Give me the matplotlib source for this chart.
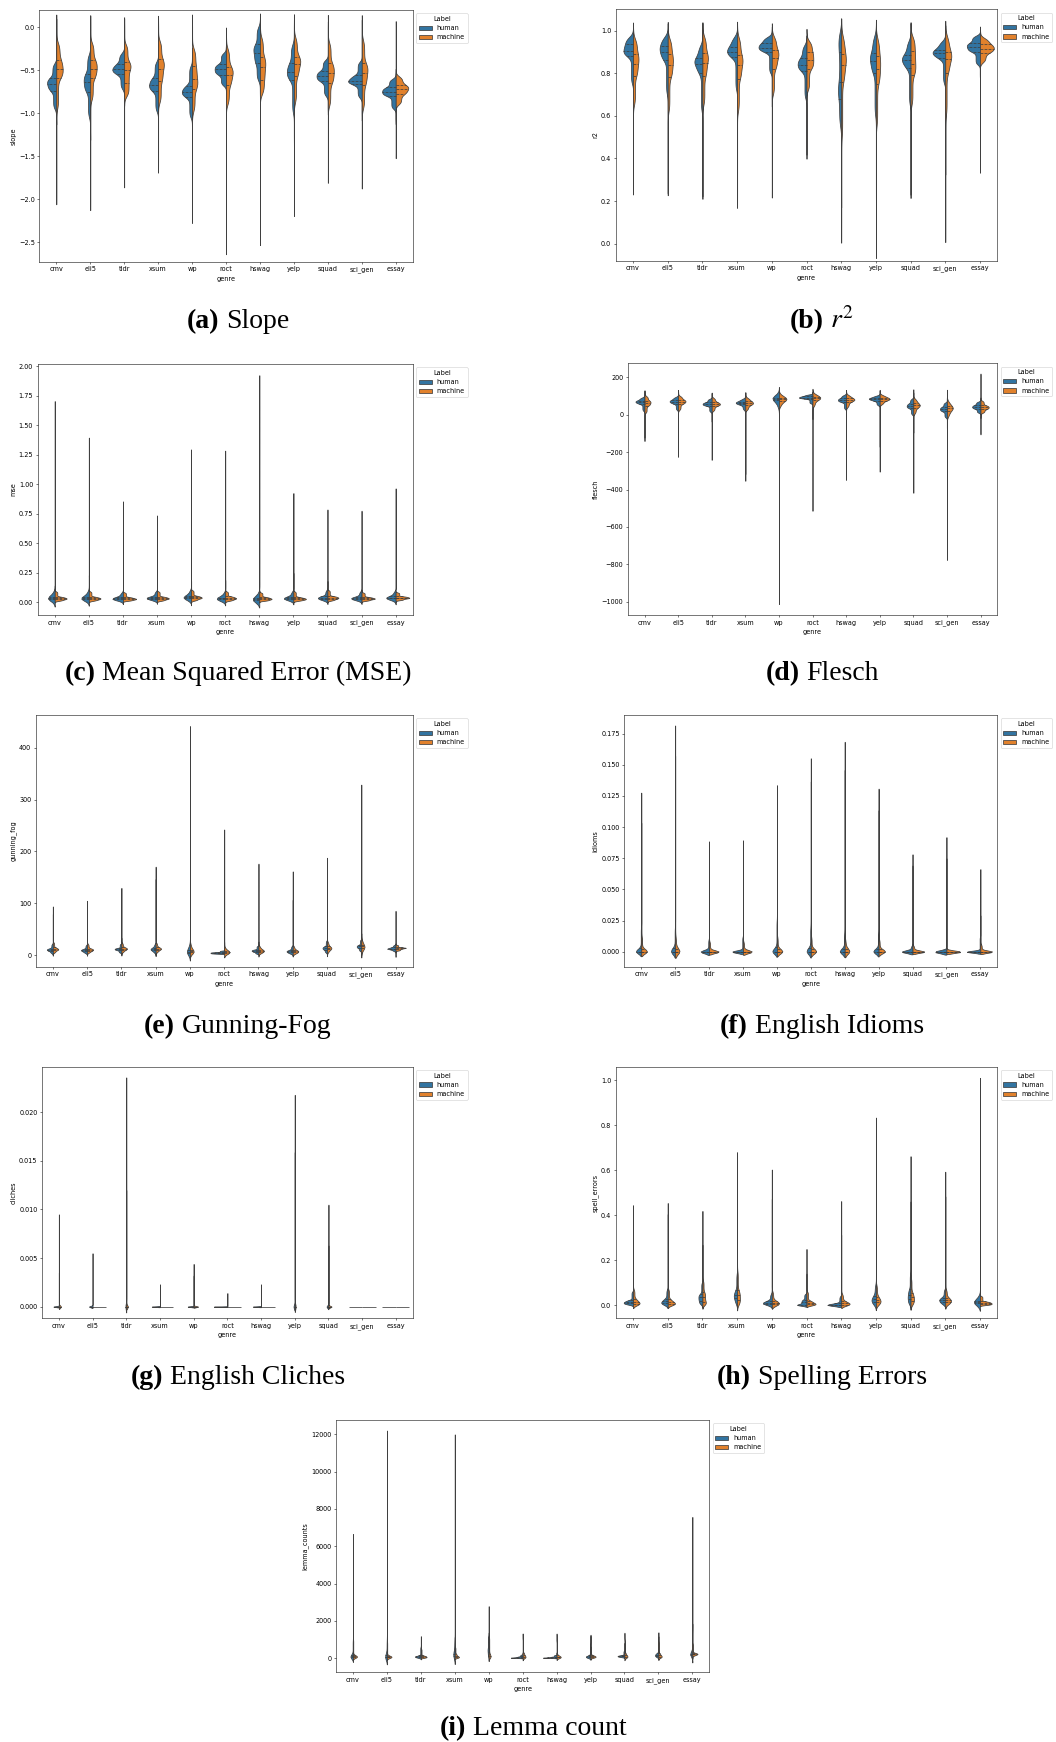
import numpy as np
import matplotlib
matplotlib.use("Agg")
import matplotlib.pyplot as plt
from matplotlib.patches import Patch
from matplotlib.ticker import MultipleLocator

# ---------------- data ----------------
GENRES = ["cmv", "eli5", "tldr", "xsum", "wp", "roct", "hswag", "yelp", "squad", "sci_gen", "essay"]
LABELS = ["human", "machine"]
# each violin half is described by quantiles at these probability levels:
# [min, p1, q1, median, q3, p99, max]
P_KNOTS = [0.0, 0.01, 0.25, 0.50, 0.75, 0.99, 1.0]

SLOPE_HUMAN = [
    [-1.07, -0.95, -0.74, -0.66, -0.59, -0.42, 0.05],
    [-1.23, -1.05, -0.75, -0.64, -0.54, -0.32, 0.06],
    [-1.83, -0.72, -0.54, -0.49, -0.43, -0.30, 0.05],
    [-1.19, -0.98, -0.74, -0.67, -0.59, -0.40, 0.05],
    [-1.20, -1.05, -0.81, -0.75, -0.68, -0.45, -0.30],
    [-0.95, -0.68, -0.55, -0.49, -0.43, -0.30, -0.22],
    [-0.80, -0.62, -0.42, -0.30, -0.20, 0.00, 0.06],
    [-1.32, -1.00, -0.61, -0.52, -0.42, -0.20, 0.05],
    [-0.97, -0.80, -0.63, -0.57, -0.51, -0.38, 0.03],
    [-1.04, -0.82, -0.66, -0.62, -0.56, -0.40, 0.05],
    [-1.09, -0.95, -0.80, -0.75, -0.70, -0.60, -0.52],
]
SLOPE_MACHINE = [
    [-1.99, -0.95, -0.59, -0.49, -0.38, -0.18, 0.06],
    [-2.07, -0.85, -0.59, -0.48, -0.38, -0.18, 0.06],
    [-0.84, -0.80, -0.65, -0.50, -0.40, -0.20, 0.05],
    [-1.62, -0.88, -0.63, -0.48, -0.37, -0.16, 0.05],
    [-2.21, -0.98, -0.72, -0.60, -0.45, -0.25, 0.06],
    [-2.59, -0.90, -0.67, -0.55, -0.46, -0.25, -0.09],
    [-2.48, -0.78, -0.61, -0.465, -0.345, -0.12, 0.07],
    [-2.13, -0.88, -0.57, -0.43, -0.34, -0.12, 0.06],
    [-1.74, -0.92, -0.65, -0.53, -0.42, -0.18, 0.06],
    [-1.80, -0.95, -0.67, -0.53, -0.42, -0.15, 0.05],
    [-1.49, -0.90, -0.78, -0.72, -0.67, -0.57, 0.04],
]

R2_HUMAN = [
    [0.33, 0.75, 0.88, 0.905, 0.935, 0.97, 1.0],
    [0.26, 0.70, 0.86, 0.90, 0.93, 0.97, 1.0],
    [0.25, 0.62, 0.80, 0.845, 0.87, 0.93, 1.0],
    [0.24, 0.72, 0.875, 0.90, 0.925, 0.97, 1.0],
    [0.66, 0.80, 0.90, 0.92, 0.94, 0.97, 1.0],
    [0.44, 0.68, 0.81, 0.84, 0.87, 0.93, 0.95],
    [0.22, 0.55, 0.68, 0.76, 0.90, 0.99, 1.0],
    [0.23, 0.60, 0.80, 0.855, 0.895, 0.97, 1.0],
    [0.24, 0.65, 0.825, 0.86, 0.885, 0.95, 1.0],
    [0.34, 0.75, 0.87, 0.893, 0.91, 0.95, 1.0],
    [0.78, 0.84, 0.90, 0.922, 0.942, 0.975, 0.98],
]
R2_MACHINE = [
    [0.26, 0.65, 0.785, 0.845, 0.892, 0.96, 1.0],
    [0.26, 0.62, 0.78, 0.84, 0.89, 0.96, 1.0],
    [0.24, 0.65, 0.785, 0.85, 0.895, 0.97, 1.0],
    [0.20, 0.62, 0.775, 0.84, 0.885, 0.965, 1.0],
    [0.24, 0.70, 0.82, 0.873, 0.91, 0.97, 1.0],
    [0.42, 0.72, 0.82, 0.86, 0.90, 0.95, 0.98],
    [0.05, 0.50, 0.76, 0.84, 0.89, 0.97, 1.0],
    [-0.03, 0.55, 0.75, 0.82, 0.88, 0.96, 1.0],
    [0.26, 0.65, 0.79, 0.845, 0.905, 0.97, 1.0],
    [0.04, 0.60, 0.80, 0.865, 0.90, 0.97, 1.0],
    [0.34, 0.85, 0.897, 0.916, 0.935, 0.965, 1.0],
]

MSE_HUMAN = [
    [0.004, 0.012, 0.026, 0.034, 0.043, 0.09, 1.70],
    [0.004, 0.012, 0.026, 0.034, 0.043, 0.09, 1.39],
    [0.004, 0.012, 0.024, 0.031, 0.040, 0.08, 0.85],
    [0.004, 0.012, 0.028, 0.036, 0.045, 0.09, 0.73],
    [0.005, 0.015, 0.033, 0.042, 0.052, 0.10, 1.29],
    [0.004, 0.012, 0.024, 0.030, 0.038, 0.08, 1.28],
    [0.002, 0.008, 0.016, 0.022, 0.030, 0.07, 1.92],
    [0.004, 0.012, 0.026, 0.034, 0.044, 0.09, 0.92],
    [0.004, 0.012, 0.028, 0.037, 0.047, 0.10, 0.78],
    [0.004, 0.012, 0.026, 0.034, 0.043, 0.09, 0.77],
    [0.005, 0.015, 0.030, 0.038, 0.047, 0.09, 0.96],
]
MSE_MACHINE = [
    [0.004, 0.010, 0.024, 0.033, 0.045, 0.09, 0.13],
    [0.004, 0.010, 0.024, 0.033, 0.045, 0.09, 0.22],
    [0.004, 0.010, 0.022, 0.030, 0.042, 0.08, 0.085],
    [0.004, 0.010, 0.025, 0.034, 0.046, 0.09, 0.14],
    [0.004, 0.012, 0.030, 0.040, 0.053, 0.10, 0.18],
    [0.004, 0.010, 0.025, 0.035, 0.048, 0.09, 0.18],
    [0.004, 0.010, 0.022, 0.031, 0.043, 0.08, 0.09],
    [0.004, 0.010, 0.022, 0.030, 0.042, 0.09, 0.24],
    [0.004, 0.012, 0.028, 0.038, 0.050, 0.10, 0.17],
    [0.004, 0.010, 0.024, 0.032, 0.043, 0.08, 0.10],
    [0.005, 0.015, 0.030, 0.038, 0.048, 0.08, 0.085],
]

FLESCH_HUMAN = [
    [-135, 20, 58, 68, 76, 92, 120],
    [-168, 25, 60, 70, 79, 95, 122],
    [-30, 15, 48, 57, 66, 85, 108],
    [-314, 25, 55, 63, 70, 85, 108],
    [-1010, 40, 78, 85, 92, 105, 120],
    [-20, 60, 86, 92, 98, 108, 120],
    [-72, 30, 68, 78, 88, 105, 120],
    [-168, 50, 75, 84, 90, 102, 122],
    [-88, 0, 35, 47, 60, 85, 108],
    [-73, -15, 18, 30, 42, 65, 90],
    [-100, 10, 32, 42, 52, 70, 85],
]
FLESCH_MACHINE = [
    [-115, 10, 48, 63, 76, 100, 120],
    [-220, 25, 58, 70, 80, 100, 122],
    [-237, 20, 48, 57, 67, 90, 108],
    [-350, 25, 52, 62, 72, 90, 108],
    [-680, 45, 74, 82, 90, 105, 122],
    [-511, 45, 78, 88, 96, 110, 122],
    [-345, 40, 70, 80, 88, 105, 120],
    [-302, 55, 76, 84, 91, 105, 122],
    [-413, 5, 38, 50, 62, 85, 122],
    [-773, -10, 22, 35, 45, 70, 112],
    [-10, 10, 30, 40, 50, 75, 215],
]

FOG_HUMAN = [
    [2, 4, 9, 11, 13, 22, 93],
    [2, 4, 8, 10, 12, 20, 100],
    [3, 5, 10, 12, 14, 22, 32],
    [3, 5, 10, 12, 14, 22, 170],
    [1, 2, 5, 7, 10, 20, 441],
    [2, 3, 4, 5, 6, 9, 25],
    [2, 3, 7, 9, 11, 18, 25],
    [1, 3, 6, 8, 10, 18, 106],
    [2, 5, 11, 14, 17, 28, 68],
    [3, 8, 14, 17, 20, 30, 40],
    [-1, 8, 12, 13, 15, 20, 85],
]
FOG_MACHINE = [
    [3, 5, 10, 12, 15, 25, 78],
    [3, 5, 9, 11, 13, 22, 104],
    [3, 6, 11, 13, 15, 24, 129],
    [3, 6, 11, 13, 15, 24, 146],
    [2, 3, 6, 8, 11, 22, 308],
    [2, 3, 5, 6, 8, 14, 242],
    [2, 4, 7, 9, 11, 18, 176],
    [2, 3, 6, 8, 10, 18, 161],
    [3, 6, 12, 14, 17, 26, 187],
    [4, 8, 14, 17, 20, 30, 328],
    [6, 9, 12, 14, 15, 20, 22],
]

IDIOMS_HUMAN = [
    [0, 0, 0, 0, 0.003, 0.020, 0.102],
    [0, 0, 0, 0, 0.003, 0.020, 0.156],
    [0, 0, 0, 0, 0.0, 0.010, 0.088],
    [0, 0, 0, 0, 0.0, 0.012, 0.053],
    [0, 0, 0, 0, 0.004, 0.025, 0.103],
    [0, 0, 0, 0, 0.003, 0.020, 0.154],
    [0, 0, 0, 0, 0.002, 0.015, 0.145],
    [0, 0, 0, 0, 0.002, 0.015, 0.130],
    [0, 0, 0, 0, 0.0, 0.005, 0.078],
    [0, 0, 0, 0, 0.0, 0.0, 0.092],
    [0, 0, 0, 0, 0.0, 0.012, 0.028],
]
IDIOMS_MACHINE = [
    [0, 0, 0, 0, 0.002, 0.012, 0.127],
    [0, 0, 0, 0, 0.002, 0.012, 0.181],
    [0, 0, 0, 0, 0.0, 0.008, 0.080],
    [0, 0, 0, 0, 0.0, 0.008, 0.089],
    [0, 0, 0, 0, 0.002, 0.012, 0.133],
    [0, 0, 0, 0, 0.002, 0.012, 0.136],
    [0, 0, 0, 0, 0.002, 0.010, 0.168],
    [0, 0, 0, 0, 0.002, 0.010, 0.113],
    [0, 0, 0, 0, 0.0, 0.005, 0.069],
    [0, 0, 0, 0, 0.0, 0.0, 0.075],
    [0, 0, 0, 0, 0.0, 0.006, 0.066],
]

CLICHES_HUMAN = [
    [0, 0, 0, 0, 0, 0, 0.0035],
    [0, 0, 0, 0, 0, 0, 0.0055],
    [0, 0, 0, 0, 0, 0, 0.0236],
    [0, 0, 0, 0, 0, 0, 0.0023],
    [0, 0, 0, 0, 0, 0, 0.0032],
    [0, 0, 0, 0, 0, 0, 0.0014],
    [0, 0, 0, 0, 0, 0, 0.0023],
    [0, 0, 0, 0, 0, 0, 0.0159],
    [0, 0, 0, 0, 0, 0, 0.0105],
    [0, 0, 0, 0, 0, 0, 0.0],
    [0, 0, 0, 0, 0, 0, 0.0],
]
CLICHES_MACHINE = [
    [0, 0, 0, 0, 0, 0, 0.0095],
    [0, 0, 0, 0, 0, 0, 0.0],
    [0, 0, 0, 0, 0, 0, 0.0120],
    [0, 0, 0, 0, 0, 0, 0.0],
    [0, 0, 0, 0, 0, 0, 0.0044],
    [0, 0, 0, 0, 0, 0, 0.0],
    [0, 0, 0, 0, 0, 0, 0.0],
    [0, 0, 0, 0, 0, 0, 0.0218],
    [0, 0, 0, 0, 0, 0, 0.0063],
    [0, 0, 0, 0, 0, 0, 0.0],
    [0, 0, 0, 0, 0, 0, 0.0],
]

SPELL_HUMAN = [
    [0, 0.002, 0.008, 0.014, 0.022, 0.06, 0.16],
    [0, 0.001, 0.008, 0.016, 0.028, 0.07, 0.45],
    [0, 0.003, 0.020, 0.035, 0.050, 0.10, 0.26],
    [0, 0.005, 0.030, 0.045, 0.065, 0.14, 0.66],
    [0, 0.001, 0.006, 0.011, 0.017, 0.05, 0.47],
    [0, 0.0, 0.0, 0.012, 0.024, 0.05, 0.135],
    [0, 0.0, 0.0, 0.0, 0.008, 0.04, 0.31],
    [0, 0.002, 0.015, 0.026, 0.040, 0.09, 0.83],
    [0, 0.003, 0.025, 0.045, 0.070, 0.14, 0.45],
    [0, 0.003, 0.015, 0.024, 0.033, 0.07, 0.48],
    [0, 0.002, 0.009, 0.013, 0.018, 0.04, 1.01],
]
SPELL_MACHINE = [
    [0, 0.0, 0.006, 0.014, 0.028, 0.07, 0.44],
    [0, 0.0, 0.005, 0.012, 0.025, 0.07, 0.40],
    [0, 0.001, 0.013, 0.036, 0.058, 0.11, 0.41],
    [0, 0.002, 0.021, 0.043, 0.065, 0.15, 0.67],
    [0, 0.0, 0.004, 0.010, 0.018, 0.06, 0.60],
    [0, 0.0, 0.003, 0.010, 0.020, 0.06, 0.245],
    [0, 0.0, 0.002, 0.008, 0.017, 0.05, 0.46],
    [0, 0.001, 0.012, 0.022, 0.038, 0.09, 0.72],
    [0, 0.001, 0.018, 0.035, 0.055, 0.12, 0.655],
    [0, 0.002, 0.013, 0.022, 0.032, 0.07, 0.59],
    [0, 0.0, 0.005, 0.010, 0.016, 0.04, 0.065],
]

LEMMA_HUMAN = [
    [5, 20, 60, 110, 200, 1000, 6600],
    [5, 20, 50, 90, 160, 1000, 12150],
    [10, 30, 70, 100, 150, 600, 1130],
    [10, 40, 120, 250, 400, 1000, 11950],
    [10, 100, 350, 550, 900, 1200, 2680],
    [10, 20, 30, 55, 100, 200, 300],
    [10, 20, 30, 50, 90, 180, 300],
    [10, 30, 60, 100, 170, 800, 1180],
    [20, 60, 100, 130, 170, 400, 800],
    [20, 60, 130, 200, 280, 800, 1100],
    [20, 100, 200, 250, 350, 1500, 7480],
]
LEMMA_MACHINE = [
    [10, 30, 70, 110, 180, 1000, 1150],
    [10, 30, 60, 90, 140, 900, 1680],
    [10, 30, 60, 100, 160, 500, 600],
    [10, 30, 60, 120, 250, 600, 1080],
    [10, 30, 100, 250, 700, 1150, 1230],
    [10, 30, 60, 150, 300, 1000, 1220],
    [10, 25, 50, 90, 180, 900, 1230],
    [10, 30, 70, 110, 170, 600, 1150],
    [10, 30, 80, 150, 300, 1000, 1260],
    [10, 40, 80, 150, 270, 900, 1300],
    [50, 150, 215, 245, 280, 800, 1800],
]

METRICS = ["slope", "r2", "mse", "flesch", "gunning_fog", "idioms", "cliches", "spell_errors", "lemma_counts"]
HUMAN_DATA = [SLOPE_HUMAN, R2_HUMAN, MSE_HUMAN, FLESCH_HUMAN, FOG_HUMAN,
              IDIOMS_HUMAN, CLICHES_HUMAN, SPELL_HUMAN, LEMMA_HUMAN]
MACHINE_DATA = [SLOPE_MACHINE, R2_MACHINE, MSE_MACHINE, FLESCH_MACHINE, FOG_MACHINE,
                IDIOMS_MACHINE, CLICHES_MACHINE, SPELL_MACHINE, LEMMA_MACHINE]
Y_LIMITS = [(-2.726, 0.201), (-0.080, 1.100), (-0.110, 2.017), (-1071, 275), (-22, 463),
            (-0.012, 0.190), (-0.0012, 0.0247), (-0.059, 1.061), (-750, 12766)]
Y_TICK_STEP = [0.5, 0.2, 0.25, 200, 100, 0.025, 0.005, 0.2, 2000]
CAP_TAGS = ["(a)", "(b)", "(c)", "(d)", "(e)", "(f)", "(g)", "(h)", "(i)"]
CAP_TEXTS = ["Slope", "$r^2$", "Mean Squared Error (MSE)", "Flesch", "Gunning-Fog",
             "English Idioms", "English Cliches", "Spelling Errors", "Lemma count"]

# ---------------- layout / style ----------------
W, H, DPI = 1056, 1742, 100
S = 0.47  # scale of the embedded plots
AX_BOX = [  # left, top, right, bottom in pixels
    (39.3, 10.0, 412.7, 261.7),
    (615.7, 9.3, 997.3, 260.7),
    (37.7, 364.0, 412.7, 615.0),
    (627.7, 363.3, 997.3, 615.0),
    (35.7, 715.0, 412.7, 966.7),
    (624.3, 715.0, 997.3, 966.7),
    (42.0, 1066.7, 412.7, 1318.3),
    (615.7, 1066.7, 997.3, 1318.3),
    (336.0, 1420.0, 709.3, 1672.3),
]
CAP_POS = [(238.5, 328), (821.7, 328), (238, 680), (822, 680), (238, 1033),
           (822, 1033), (238, 1384), (822, 1384), (533, 1735)]
COLORS = {"human": "#3274a1", "machine": "#e1812c"}
LINE = "#3f3f3f"
LW = 0.55
N_SAMPLE = 2000
CAP_FS = 20
SERIF = ["Liberation Serif", "DejaVu Serif"]

plt.rcParams.update({
    "font.family": ["DejaVu Sans"],
    "font.size": 10 * S,
    "axes.linewidth": 0.8 * S,
    "xtick.major.size": 3.5 * S, "ytick.major.size": 3.5 * S,
    "xtick.major.width": 0.8 * S, "ytick.major.width": 0.8 * S,
    "xtick.major.pad": 3.5 * S, "ytick.major.pad": 3.5 * S,
    "axes.labelpad": 4 * S,
    "legend.fontsize": 10 * S, "legend.title_fontsize": 10 * S,
    "mathtext.fontset": "stix",
})


def make_sample(q):
    p = (np.arange(N_SAMPLE) + 0.5) / N_SAMPLE
    return np.interp(p, P_KNOTS, q)


def kde(sample):
    sd = sample.std(ddof=1)
    if sd == 0:
        return None
    bw = sd * len(sample) ** (-0.2)
    y = np.linspace(sample.min() - 2 * bw, sample.max() + 2 * bw, 100)
    z = (y[:, None] - sample[None, :]) / bw
    d = np.exp(-0.5 * z * z).sum(1) / (len(sample) * bw * np.sqrt(2 * np.pi))
    return y, d


fig = plt.figure(figsize=(W / DPI, H / DPI), dpi=DPI)

for k, metric in enumerate(METRICS):
    l, t, r, b = AX_BOX[k]
    ax = fig.add_axes([l / W, 1 - b / H, (r - l) / W, (b - t) / H])
    halves = []
    for gi in range(len(GENRES)):
        for lab, src in (("human", HUMAN_DATA[k]), ("machine", MACHINE_DATA[k])):
            s = make_sample(src[gi])
            halves.append((gi, lab, s, kde(s)))
    gmax = max(h[3][1].max() for h in halves if h[3] is not None)
    for gi, lab, s, kd in halves:
        sign = -1 if lab == "human" else 1
        if kd is None:
            v = s[0]
            ax.plot([gi, gi + sign * 0.4], [v, v], color=LINE, lw=LW, solid_capstyle="butt")
            continue
        y, d = kd
        w = d / gmax * 0.4
        if lab == "human":
            ax.fill_betweenx(y, gi - w, gi, facecolor=COLORS[lab], edgecolor=LINE, lw=LW)
        else:
            ax.fill_betweenx(y, gi, gi + w, facecolor=COLORS[lab], edgecolor=LINE, lw=LW)
        for qv in np.percentile(s, [25, 50, 75]):
            wq = np.interp(qv, y, w)
            ax.plot([gi, gi + sign * wq], [qv, qv], color=LINE, lw=LW, ls="--")
    ax.set_xlim(-0.5, len(GENRES) - 0.5)
    ax.set_ylim(*Y_LIMITS[k])
    ax.yaxis.set_major_locator(MultipleLocator(Y_TICK_STEP[k]))
    ax.set_xticks(range(len(GENRES)))
    ax.set_xticklabels(GENRES)
    ax.set_xlabel("genre")
    ax.set_ylabel(metric)
    handles = [Patch(facecolor=COLORS[lab], edgecolor=LINE, lw=LW, label=lab) for lab in LABELS]
    leg = ax.legend(handles=handles, title="Label", loc="upper left", bbox_to_anchor=(1, 1))
    leg.get_frame().set_linewidth(1.0 * S)

renderer = fig.canvas.get_renderer()
for k in range(len(METRICS)):
    xc, yb = CAP_POS[k]
    t1 = fig.text(0, 0, CAP_TAGS[k], fontsize=CAP_FS, family=SERIF, weight="bold",
                  ha="left", va="baseline")
    t2 = fig.text(0, 0, CAP_TEXTS[k], fontsize=CAP_FS, family=SERIF,
                  ha="left", va="baseline")
    w1 = t1.get_window_extent(renderer).width
    w2 = t2.get_window_extent(renderer).width
    gap = CAP_FS * 0.25 * DPI / 72
    x0 = xc - (w1 + gap + w2) / 2
    t1.set_position((x0 / W, 1 - yb / H))
    t2.set_position(((x0 + w1 + gap) / W, 1 - yb / H))

fig.savefig("out.png", dpi=DPI)
